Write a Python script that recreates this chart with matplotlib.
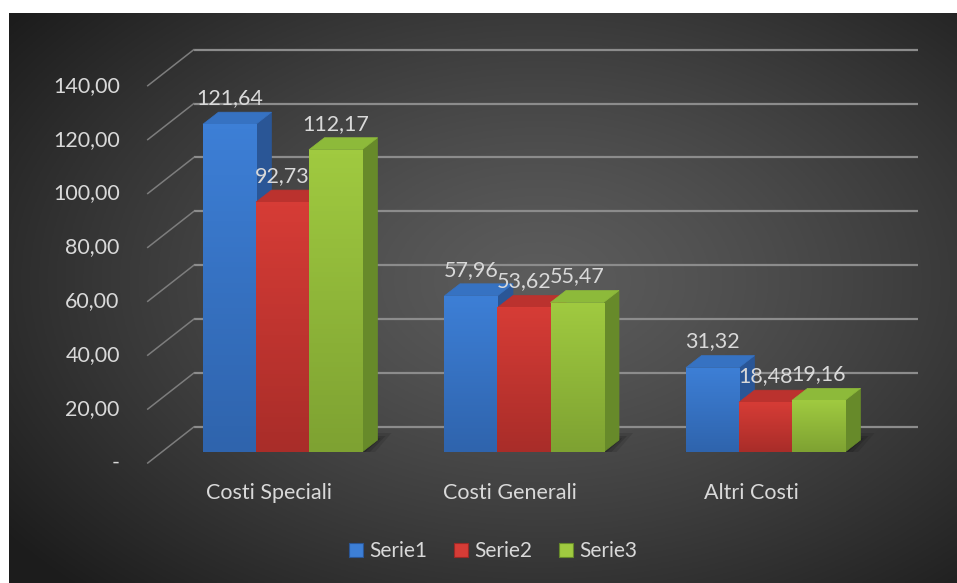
import numpy as np
import matplotlib
matplotlib.use("Agg")
import matplotlib.pyplot as plt
from matplotlib.patches import Polygon, Patch

# data
categories = ["Costi Speciali", "Costi Generali", "Altri Costi"]
series_names = ["Serie1", "Serie2", "Serie3"]
serie1 = [121.64, 57.96, 31.32]
serie2 = [92.73, 53.62, 18.48]
serie3 = [112.17, 55.47, 19.16]
y_ticks = [0, 20, 40, 60, 80, 100, 120, 140]

# face colours: (front top, front bottom, side, top)
palette = [
    ("#3d7fd6", "#2f64ad", "#2a5696", "#3672c2"),
    ("#d63c36", "#a92d29", "#9a2926", "#bb322e"),
    ("#a0ca40", "#7ea232", "#678a2a", "#8dba3a"),
]
text_color = "#d9d9d9"
font = "Lato"
fs = 15.5

W, H = 957, 583
fig = plt.figure(figsize=(W / 100, H / 100), dpi=100, facecolor="white")

# dark radial background panel
bg = fig.add_axes([9 / W, 0, 948 / W, 570 / H])
gx, gy = np.meshgrid(np.linspace(0, 1, 400), np.linspace(0, 1, 300))
r = np.sqrt(((gx - 0.56) / 0.75) ** 2 + ((gy - 0.47) / 0.8) ** 2)
shade = np.clip(0.36 - 0.27 * r ** 1.3, 0.11, 0.4)
bg.imshow(np.dstack([shade] * 3), extent=[0, 1, 0, 1], aspect="auto", origin="upper")
bg.set_axis_off()

# plot axes = front plane of the bars
left_px, right_px = 161.75, 886.25
bottom_px, top_px = 452, 47.75
ax = fig.add_axes([left_px / W, 1 - bottom_px / H,
                   (right_px - left_px) / W, (bottom_px - top_px) / H])
ax.set_xlim(-0.5, 2.5)
ax.set_ylim(0, 150)
ax.set_axis_off()
ax.patch.set_alpha(0)

ux = (right_px - left_px) / 3.0        # pixels per category
uy = (bottom_px - top_px) / 150.0      # pixels per value unit


def off(px, py):
    return px / ux, py / uy


back = off(32, 25)      # back wall relative to bar plane
front = off(-14, -11)   # front floor edge relative to bar plane
depth = off(15.5, 12)   # bar depth
x0, x1 = ax.get_xlim()

# back wall gridlines and left wall diagonals
for v in y_ticks:
    ax.plot([x0 + back[0], x1 + back[0]], [v + back[1]] * 2,
            color="#8c8c8c", lw=1.6, solid_capstyle="butt", zorder=1, clip_on=False)
    ax.plot([x0 + front[0], x0 + back[0]], [v + front[1], v + back[1]],
            color="#7d7d7d", lw=1.1, zorder=1, clip_on=False)
    label = "-" if v == 0 else f"{v:.2f}".replace(".", ",")
    ax.text(x0 + front[0] - 28 / ux, v + front[1], label, ha="right", va="center",
            color=text_color, fontsize=fs, family=font, clip_on=False)

n = len(series_names)
width = 0.2195
x = np.arange(len(categories))
values = [serie1, serie2, serie3]

# soft floor shadow under each group
for i in x:
    gl = i - n * width / 2
    gr = i + n * width / 2
    for k, a in [(7, 0.10), (4, 0.14), (1.5, 0.2)]:
        dxk, dyk = off(k, k)
        poly = [(gl - dxk, -dyk), (gr + dxk, -dyk),
                (gr + depth[0] + 2 * dxk, depth[1] + dyk), (gl + depth[0], depth[1] + dyk)]
        ax.add_patch(Polygon(poly, closed=True, color="black", alpha=a, lw=0, zorder=2))

grad = np.linspace(0, 1, 64).reshape(-1, 1)
for gi in x:
    for si in range(n):
        v = values[si][gi]
        ftop, fbot, side, top = palette[si]
        xl = gi + (si - (n - 1) / 2) * width - width / 2
        xr = xl + width
        z = 3 + si
        side_poly = [(xr, 0), (xr + depth[0], depth[1]),
                     (xr + depth[0], v + depth[1]), (xr, v)]
        ax.add_patch(Polygon(side_poly, closed=True, fc=side, ec=side, lw=0.5, zorder=z))
        top_poly = [(xl, v), (xr, v), (xr + depth[0], v + depth[1]), (xl + depth[0], v + depth[1])]
        ax.add_patch(Polygon(top_poly, closed=True, fc=top, ec=top, lw=0.5, zorder=z))
        bar = ax.bar(xl, v, width=width, align="edge", color=fbot, lw=0, zorder=z)[0]
        c1 = np.array(matplotlib.colors.to_rgb(ftop))
        c2 = np.array(matplotlib.colors.to_rgb(fbot))
        img = c1[None, None, :] * (1 - grad[:, :, None]) + c2[None, None, :] * grad[:, :, None]
        im = ax.imshow(img, extent=[xl, xr, 0, v], aspect="auto", origin="upper", zorder=z)
        im.set_clip_path(bar)
        ax.text(xl + width / 2, v + 26 / uy, f"{v:.2f}".replace(".", ","),
                ha="center", va="center", color=text_color, fontsize=fs,
                family=font, zorder=10, clip_on=False)

ax.set_xlim(-0.5, 2.5)
ax.set_ylim(0, 150)

for i, cat in enumerate(categories):
    ax.text(i + front[0], front[1] - 30 / uy, cat, ha="center", va="center",
            color=text_color, fontsize=fs, family=font, clip_on=False)

handles = [Patch(facecolor=palette[s][0], edgecolor=palette[s][2], lw=0.8) for s in range(n)]
fig.legend(handles, series_names, loc="center", bbox_to_anchor=(493 / W, 1 - 551 / H),
           ncol=3, frameon=False, handlelength=0.65, handleheight=0.65,
           handletextpad=0.3, columnspacing=1.3, labelcolor=text_color,
           prop={"family": font, "size": 15})

fig.savefig("out.png", dpi=100, facecolor="white")
